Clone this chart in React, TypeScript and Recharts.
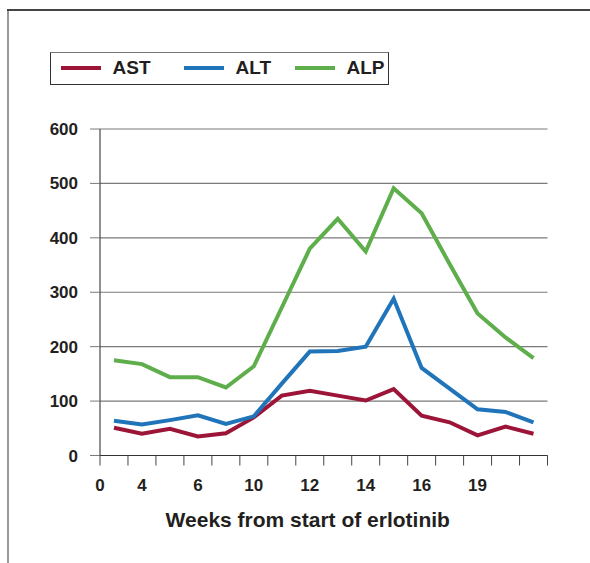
import React from 'react';
import { LineChart, Line, XAxis, YAxis, CartesianGrid, Legend, Label } from 'recharts';

// one label per sample (blank = unlabeled), plus the label at the axis origin
const weekLabels = ['', '4', '', '6', '', '10', '', '12', '', '14', '', '16', '', '19', '', ''];
const originLabel = '0';

const astValues = [51, 40, 49, 35, 41, 70, 110, 119, 110, 101, 122, 73, 61, 37, 53, 40];
const altValues = [64, 57, 65, 74, 58, 72, 132, 191, 192, 200, 288, 161, 123, 85, 80, 61];
const alpValues = [175, 168, 144, 144, 125, 164, 272, 380, 435, 375, 491, 445, 352, 261, 217, 179];

const yTicks = [0, 100, 200, 300, 400, 500, 600];
const xTitle = 'Weeks from start of erlotinib';

const series = [
    { key: 'ast', name: 'AST', color: '#9c1539' },
    { key: 'alt', name: 'ALT', color: '#1f74ba' },
    { key: 'alp', name: 'ALP', color: '#5fae4c' },
];

const textColor = '#231f20';

// samples sit in the middle of each slot, ticks on the slot boundaries
const chartData = weekLabels.map((label, i) => ({
    pos: i + 0.5,
    label,
    ast: astValues[i],
    alt: altValues[i],
    alp: alpValues[i],
}));

const labelMap = new Map<number, string>();
labelMap.set(0, originLabel);
chartData.forEach(d => {
    if (d.label) labelMap.set(d.pos, d.label);
});
const boundaries = Array.from({ length: weekLabels.length + 1 }, (_, i) => i);
const xTicks = Array.from(new Set([...boundaries, ...labelMap.keys()])).sort((a, b) => a - b);

const WeekTick = (props: any) => {
    const { x, y, payload } = props;
    const v = payload.value;
    const label = labelMap.get(v);
    return (
        <g>
            {Number.isInteger(v) && <line x1={x} y1={y} x2={x} y2={y + 10} stroke="#444" strokeWidth={1} />}
            {label && (
                <text x={x} y={y + 35.5} textAnchor="middle" fontSize={17} fontWeight="bold" fill={textColor}>
                    {label}
                </text>
            )}
        </g>
    );
};

const AxisTitle = (props: any) => {
    const { viewBox } = props;
    return (
        <text
            x={viewBox.x + viewBox.width / 2 - 16}
            y={viewBox.y + 71}
            textAnchor="middle"
            fontSize={21}
            fontWeight="bold"
            fill={textColor}
        >
            {xTitle}
        </text>
    );
};

const itemLeft = [9.5, 132.5, 243.5];

// legend keeps the series order (AST, ALT, ALP)
const LegendBox = () => (
    <div
        style={{
            position: 'relative',
            width: 339,
            height: 33,
            border: '1.5px solid #333',
            borderTopColor: '#777',
            boxSizing: 'border-box',
            background: '#fff',
        }}
    >
        {series.map((s, i) => (
            <div
                key={s.key}
                style={{
                    position: 'absolute',
                    left: itemLeft[i],
                    top: 0,
                    height: 30,
                    display: 'flex',
                    alignItems: 'center',
                }}
            >
                <span style={{ display: 'inline-block', width: 40, height: 4, background: s.color, marginRight: 12 }} />
                <span style={{ fontSize: 19, fontWeight: 'bold', color: textColor, lineHeight: '30px' }}>{s.name}</span>
            </div>
        ))}
    </div>
);

export default function App() {
    return (
        <div
            style={{
                position: 'absolute',
                left: 0,
                top: 0,
                width: 590,
                height: 563,
                background: '#fff',
                fontFamily: '"Liberation Sans", Arial, sans-serif',
            }}
        >
            {/* frame: left and top edges only */}
            <div style={{ position: 'absolute', left: 6.5, top: 9, width: 2, height: 554, background: '#999' }} />
            <div style={{ position: 'absolute', left: 6.5, top: 9, right: 0, height: 2, background: '#444' }} />
            <div style={{ position: 'absolute', left: 0, top: 0 }}>
                <LineChart width={590} height={563} data={chartData} margin={{ top: 129, right: 42.5, left: 0, bottom: 27.5 }}>
                    <CartesianGrid vertical={false} stroke="#7a7a7a" strokeWidth={1.2} />
                    <XAxis
                        type="number"
                        dataKey="pos"
                        domain={[0, weekLabels.length]}
                        ticks={xTicks}
                        interval={0}
                        tickLine={false}
                        tickSize={0}
                        tickMargin={0}
                        tick={<WeekTick />}
                        axisLine={{ stroke: '#333' }}
                        height={80}
                    >
                        <Label content={<AxisTitle />} />
                    </XAxis>
                    <YAxis
                        domain={[0, 600]}
                        ticks={yTicks}
                        interval={0}
                        width={100}
                        tickSize={10}
                        tickMargin={12}
                        tickLine={{ stroke: '#7a7a7a' }}
                        axisLine={{ stroke: '#222' }}
                        tick={{ fontSize: 17, fontWeight: 'bold', fill: textColor }}
                    />
                    <Legend
                        layout="horizontal"
                        verticalAlign="middle"
                        align="center"
                        content={<LegendBox />}
                        wrapperStyle={{ position: 'absolute', left: 50, top: 52, width: 339, height: 33 }}
                    />
                    {series.map(s => (
                        <Line
                            key={s.key}
                            type="linear"
                            dataKey={s.key}
                            name={s.name}
                            stroke={s.color}
                            strokeWidth={4}
                            dot={false}
                            activeDot={false}
                            isAnimationActive={false}
                        />
                    ))}
                </LineChart>
            </div>
        </div>
    );
}
